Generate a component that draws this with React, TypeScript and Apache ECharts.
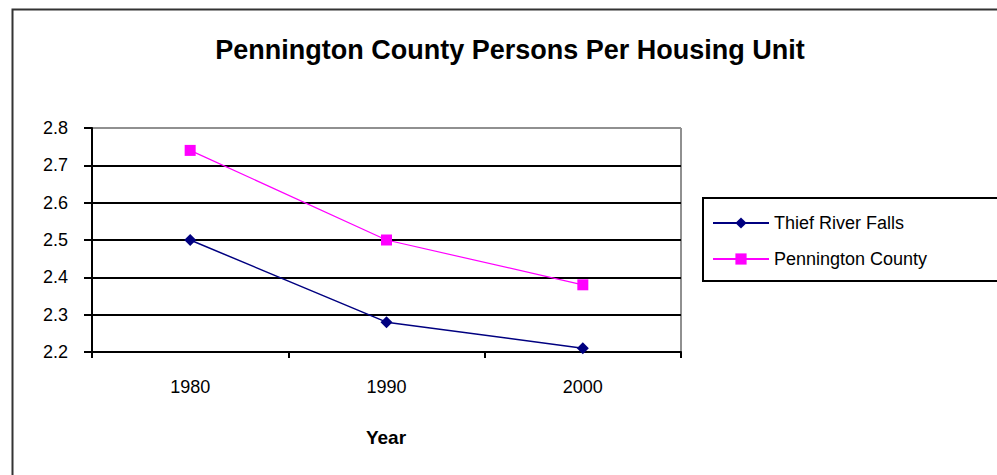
import React, { useEffect, useRef } from "react";
import * as echarts from "echarts";

const years = ["1980", "1990", "2000"];
const thiefRiverFalls = [2.5, 2.28, 2.21];
const penningtonCounty = [2.74, 2.5, 2.38];
const seriesNames = ["Thief River Falls", "Pennington County"];
const titleText = "Pennington County Persons Per Housing Unit";
const xAxisTitle = "Year";

const FONT = "'Liberation Sans', Arial, sans-serif";

export default function App() {
  const ref = useRef<HTMLDivElement>(null);
  useEffect(() => {
    if (!ref.current) return;
    const chart = echarts.init(ref.current, null, { renderer: "svg" });
    chart.setOption({
      animation: false,
      backgroundColor: "#ffffff",
      textStyle: { fontFamily: FONT },
      grid: { left: 92, right: 316, top: 128, bottom: 123, containLabel: false },
      legend: {
        left: 707,
        top: 209,
        orient: "vertical",
        itemWidth: 56,
        itemHeight: 14,
        itemGap: 18,
        textStyle: { fontFamily: FONT, fontSize: 18, color: "#000" },
        data: seriesNames,
      },
      xAxis: {
        type: "category",
        data: years,
        boundaryGap: true,
        axisLine: { lineStyle: { color: "#000", width: 2 } },
        axisTick: { show: true, length: 6, lineStyle: { color: "#000", width: 2 } },
        axisLabel: { fontFamily: FONT, fontSize: 18, color: "#000", margin: 26 },
        splitLine: { show: false },
      },
      yAxis: {
        type: "value",
        min: 2.2,
        max: 2.8,
        interval: 0.1,
        axisLine: { show: true, lineStyle: { color: "#000", width: 2 } },
        axisTick: { show: true, length: 8, lineStyle: { color: "#000", width: 2 } },
        axisLabel: {
          fontFamily: FONT,
          fontSize: 18,
          color: "#000",
          margin: 24,
          formatter: (v: number) => v.toFixed(1),
        },
        splitLine: {
          show: true,
          lineStyle: {
            color: ["#000", "#000", "#000", "#000", "#000", "#000", "#909090"],
            width: 2,
          },
        },
      },
      series: [
        {
          name: seriesNames[0],
          type: "line",
          data: thiefRiverFalls,
          symbol: "diamond",
          symbolSize: 12,
          lineStyle: { color: "#000080", width: 1.5 },
          itemStyle: { color: "#000080" },
        },
        {
          name: seriesNames[1],
          type: "line",
          data: penningtonCounty,
          symbol: "rect",
          symbolSize: 11,
          lineStyle: { color: "#ff00ff", width: 1.2 },
          itemStyle: { color: "#ff00ff" },
        },
      ],
      graphic: [
        {
          type: "rect",
          left: 10,
          top: 7,
          shape: { x: 0, y: 0, width: 1000, height: 500 },
          style: { fill: "none", stroke: "#333", lineWidth: 2 },
          silent: true,
          z: -1,
        },
        {
          type: "rect",
          shape: { x: 681, y: 128, width: 0, height: 224 },
          style: { fill: "none", stroke: "#909090", lineWidth: 2 },
          silent: true,
        },
        {
          type: "rect",
          shape: { x: 703, y: 198, width: 300, height: 83 },
          style: { fill: "none", stroke: "#000", lineWidth: 2 },
          silent: true,
        },
        {
          type: "text",
          x: 510,
          y: 50,
          style: {
            text: titleText,
            fontFamily: FONT,
            fontSize: 27,
            fontWeight: "bold",
            fill: "#000",
            align: "center",
            verticalAlign: "middle",
          },
        },
        {
          type: "text",
          x: 386,
          y: 437,
          style: {
            text: xAxisTitle,
            fontFamily: FONT,
            fontSize: 19,
            fontWeight: "bold",
            fill: "#000",
            align: "center",
            verticalAlign: "middle",
          },
        },
      ],
    });
    return () => chart.dispose();
  }, []);
  return (
    <div
      ref={ref}
      style={{ position: "absolute", left: 0, top: 0, width: 997, height: 475 }}
    />
  );
}
